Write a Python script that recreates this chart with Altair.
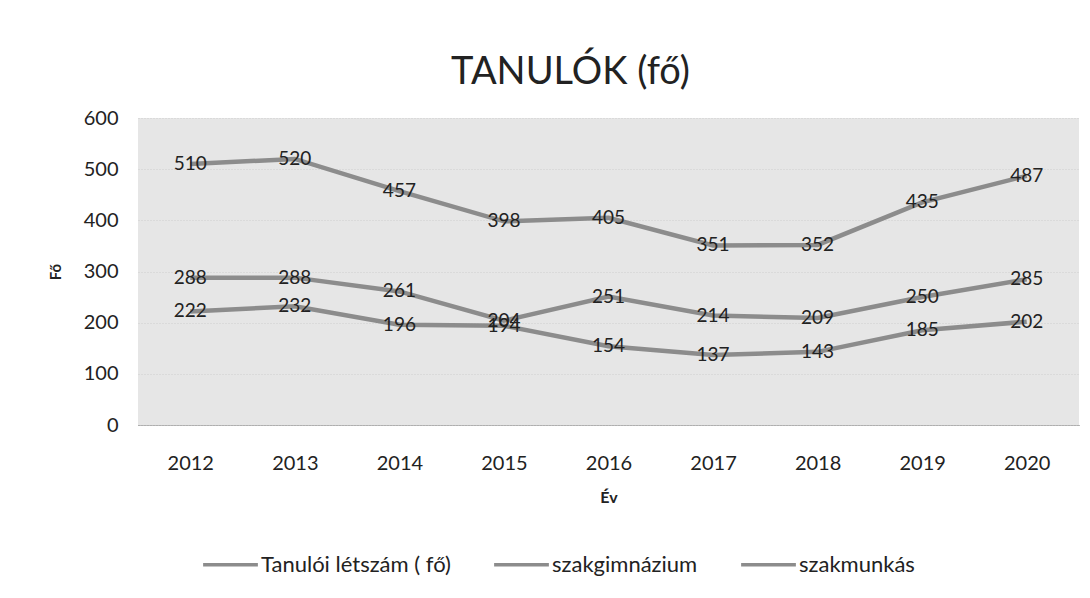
import altair as alt
import pandas as pd

years = ["2012", "2013", "2014", "2015", "2016", "2017", "2018", "2019", "2020"]
series_names = ["Tanulói létszám ( fő)", "szakgimnázium", "szakmunkás"]
total = [510, 520, 457, 398, 405, 351, 352, 435, 487]
szakgimnazium = [288, 288, 261, 204, 251, 214, 209, 250, 285]
szakmunkas = [222, 232, 196, 194, 154, 137, 143, 185, 202]

rows = []
for name, vals in zip(series_names, [total, szakgimnazium, szakmunkas]):
    for y, v in zip(years, vals):
        rows.append({"Év": y, "Fő": v, "series": name})
df = pd.DataFrame(rows)

FONT = "Lato"
GRAY = "#8c8c8c"

x = alt.X("Év:N", sort=years, scale=alt.Scale(paddingOuter=0.5),
          axis=alt.Axis(title="Év", labelAngle=0, labelFontSize=20, labelColor="#222",
                        labelPadding=28, ticks=False, domain=True, domainColor="#777",
                        domainDash=[1, 1], titleFontSize=16, titleFontWeight="bold",
                        titleColor="#222", titlePadding=16, grid=False))
y = alt.Y("Fő:Q", scale=alt.Scale(domain=[0, 600]),
          axis=alt.Axis(title="Fő", values=[0, 100, 200, 300, 400, 500, 600],
                        labelFontSize=20, labelColor="#222", labelPadding=20,
                        ticks=False, domain=False, grid=True, gridColor="#cfcfcf",
                        gridDash=[1, 2], titleFontSize=15, titleFontWeight="bold",
                        titleColor="#222", titlePadding=20))

color = alt.Color("series:N", sort=series_names,
                  scale=alt.Scale(domain=series_names, range=[GRAY, GRAY, GRAY]),
                  legend=alt.Legend(title=None, orient="none", direction="horizontal",
                                    legendX=63, legendY=417, symbolType="stroke",
                                    symbolSize=3000, symbolStrokeWidth=3.5,
                                    labelFontSize=22, labelColor="#222", labelLimit=0,
                                    columnPadding=36, labelOffset=1))

lines = alt.Chart(df).mark_line(strokeWidth=4.5).encode(x=x, y=y, color=color)
labels = alt.Chart(df).mark_text(fontSize=19, color="#222", font=FONT).encode(
    x=alt.X("Év:N", sort=years), y="Fő:Q", text="Fő:Q")

chart = (lines + labels).properties(
    width=941, height=307,
    title=alt.TitleParams("TANULÓK (fő)", fontSize=38, font=FONT, fontWeight="normal",
                          color="#222", anchor="middle", dx=-38, offset=16),
    autosize=alt.AutoSizeParams(type="none"),
    padding={"left": 130, "top": 110, "right": 3, "bottom": 170},
).configure(font=FONT).configure_view(fill="#e6e6e6", stroke=None)

chart.save("out.html", embed_options={"renderer": "svg", "actions": False})
